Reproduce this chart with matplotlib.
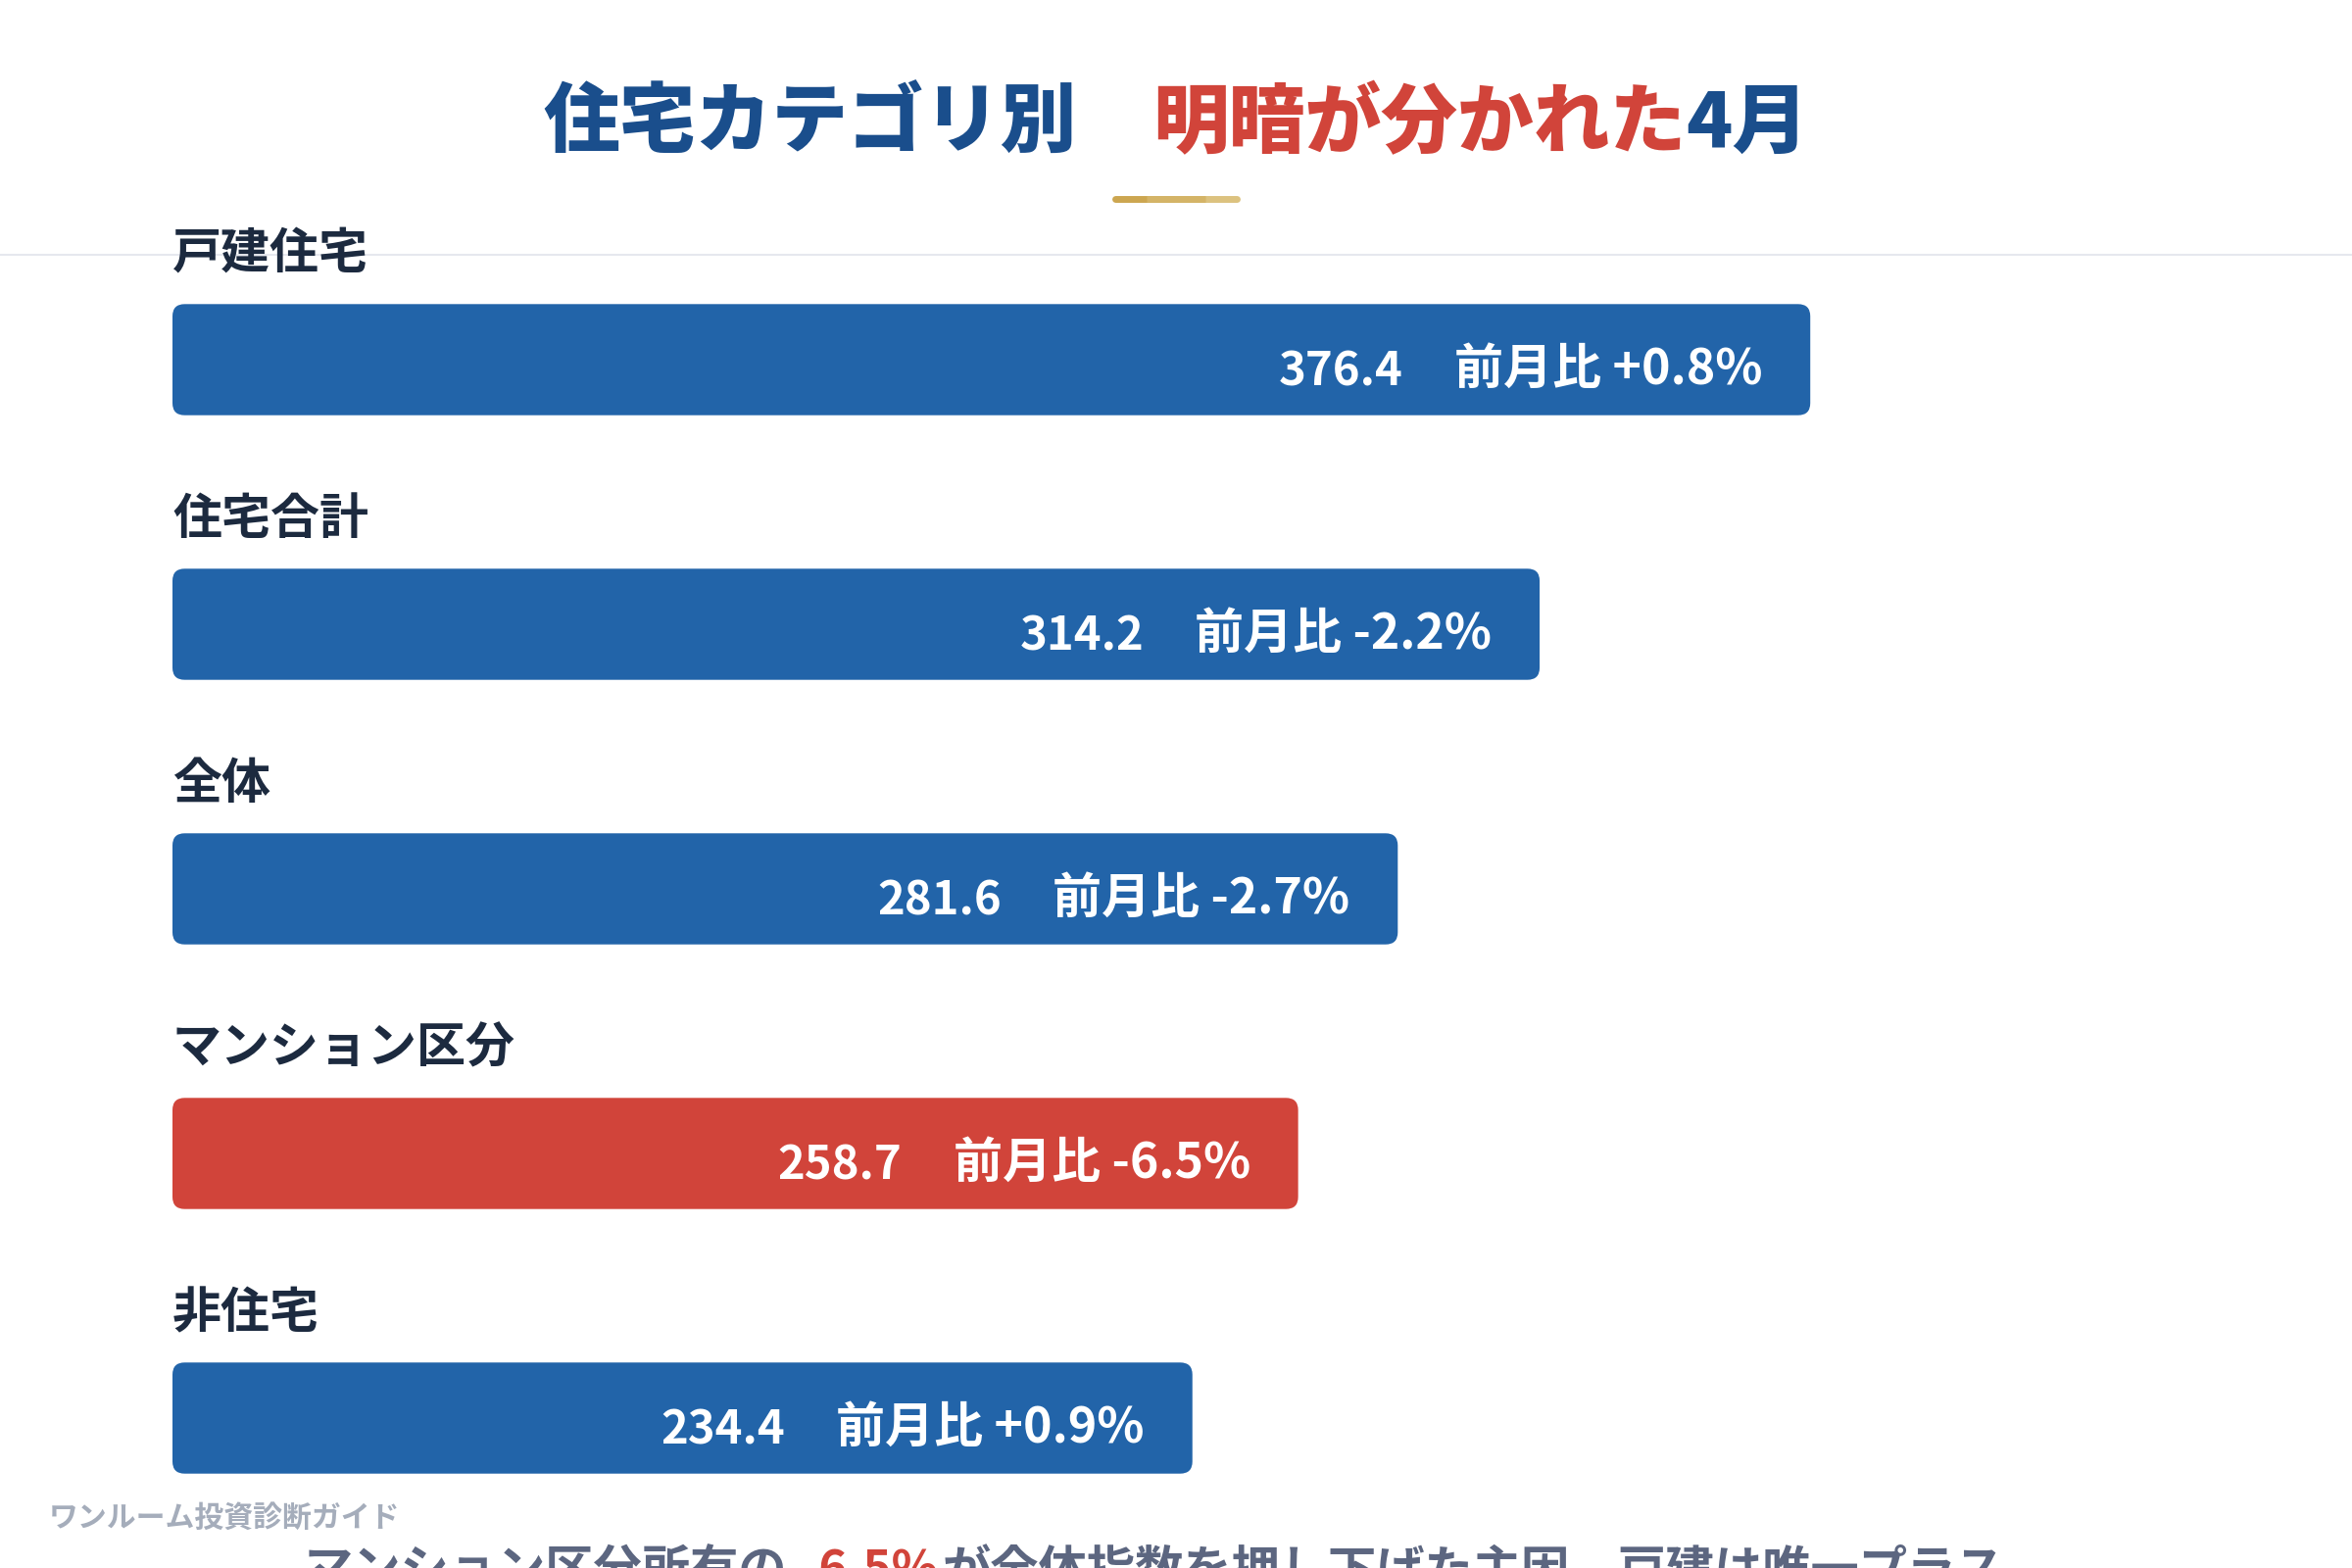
import matplotlib
matplotlib.use("Agg")
import matplotlib.pyplot as plt
from matplotlib.patches import FancyBboxPatch
from matplotlib.lines import Line2D

plt.rcParams['font.family'] = ['Noto Sans CJK JP', 'DejaVu Sans']

# data
categories = ["戸建住宅", "住宅合計", "全体", "マンション区分", "非住宅"]
values = [376.4, 314.2, 281.6, 258.7, 234.4]
changes = ["+0.8%", "-2.2%", "-2.7%", "-6.5%", "+0.9%"]
highlight = "マンション区分"

title_parts = ["住宅カテゴリ別", "明暗が分かれた", "4月"]
note_parts = ["マンション区分所有の", "-6.5%", "が全体指数を押し下げた主因、戸建は唯一プラス"]
source = "ワンルーム投資診断ガイド"

BLUE = "#2264a9"
RED = "#d1443a"
TITLE_BLUE = "#1a4e8c"
DARK = "#1c2a3f"
GREY = "#5c6680"

W, H = 2400, 1600
fig = plt.figure(figsize=(24, 16), dpi=100)
renderer = fig.canvas.get_renderer()


def put_parts(parts, colors, x_px, y_px, ha, gaps, **kw):
    # several coloured pieces on one baseline, laid out left to right
    texts = [fig.text(0, 1 - y_px / H, s, color=c, ha='left', va='baseline', **kw)
             for s, c in zip(parts, colors)]
    widths = [t.get_window_extent(renderer).width for t in texts]
    total = sum(widths) + sum(gaps)
    x0 = x_px - total / 2 if ha == 'center' else x_px
    for t, w, g in zip(texts, widths, [0] + gaps):
        x0 += g
        t.set_x(x0 / W)
        x0 += w


# title
put_parts(title_parts, [TITLE_BLUE, RED, TITLE_BLUE], 1200, 150, 'center', [78, 0],
          fontsize=56, fontweight='black')
fig.add_artist(Line2D([1138 / W, 1200 / W], [1 - 203 / H] * 2, color="#cca650",
                      lw=5, solid_capstyle='round'))
fig.add_artist(Line2D([1200 / W, 1262 / W], [1 - 203 / H] * 2, color="#dcc27f",
                      lw=5, solid_capstyle='round'))
fig.add_artist(Line2D([1170 / W, 1230 / W], [1 - 203 / H] * 2, color="#d4b467",
                      lw=5, solid_capstyle='butt'))
fig.add_artist(Line2D([0, 1], [1 - 260 / H] * 2, color="#e6e8ee", lw=1.5, zorder=0))

# bars
ax = fig.add_axes([176 / W, 18 / H, 2220 / W, 1377 / H])
ax.set_xlim(0, 500)
ax.set_ylim(4.5, -0.6)
ax.axis('off')

colors = [RED if c == highlight else BLUE for c in categories]
bars = ax.barh(range(len(categories)), values, height=0.42, color=colors)
asp = (2220 / 500) / 270
for b in bars:
    b.set_visible(False)
    ax.add_patch(FancyBboxPatch((b.get_x(), b.get_y()), b.get_width(), b.get_height(),
                                boxstyle="round,pad=0,rounding_size=2.8",
                                mutation_aspect=asp, fc=b.get_facecolor(), ec='none'))

for i, (cat, v, ch) in enumerate(zip(categories, values, changes)):
    ax.text(0, i - 0.341, cat, ha='left', va='baseline', fontsize=36,
            fontweight='bold', color=DARK)
    t = ax.text(v - 11, i + 0.093, "前月比 " + ch, ha='right', va='baseline',
                fontsize=36, fontweight='bold', color='white')
    ax.annotate(f"{v:.1f}", xy=(0, 0), xycoords=t, xytext=(-52, 0),
                textcoords='offset pixels', ha='right', va='bottom',
                fontsize=34, fontweight='bold', color='white')

# footer
fig.text(50 / W, 1 - 1558 / H, source, ha='left', va='baseline', fontsize=21.5,
         fontweight='bold', color="#a5adbb")
put_parts(note_parts, [GREY, RED, GREY], 311, 1618, 'left', [14, 4],
          fontsize=35.5, fontweight='bold')

fig.savefig("out.png", dpi=100, facecolor='white')
